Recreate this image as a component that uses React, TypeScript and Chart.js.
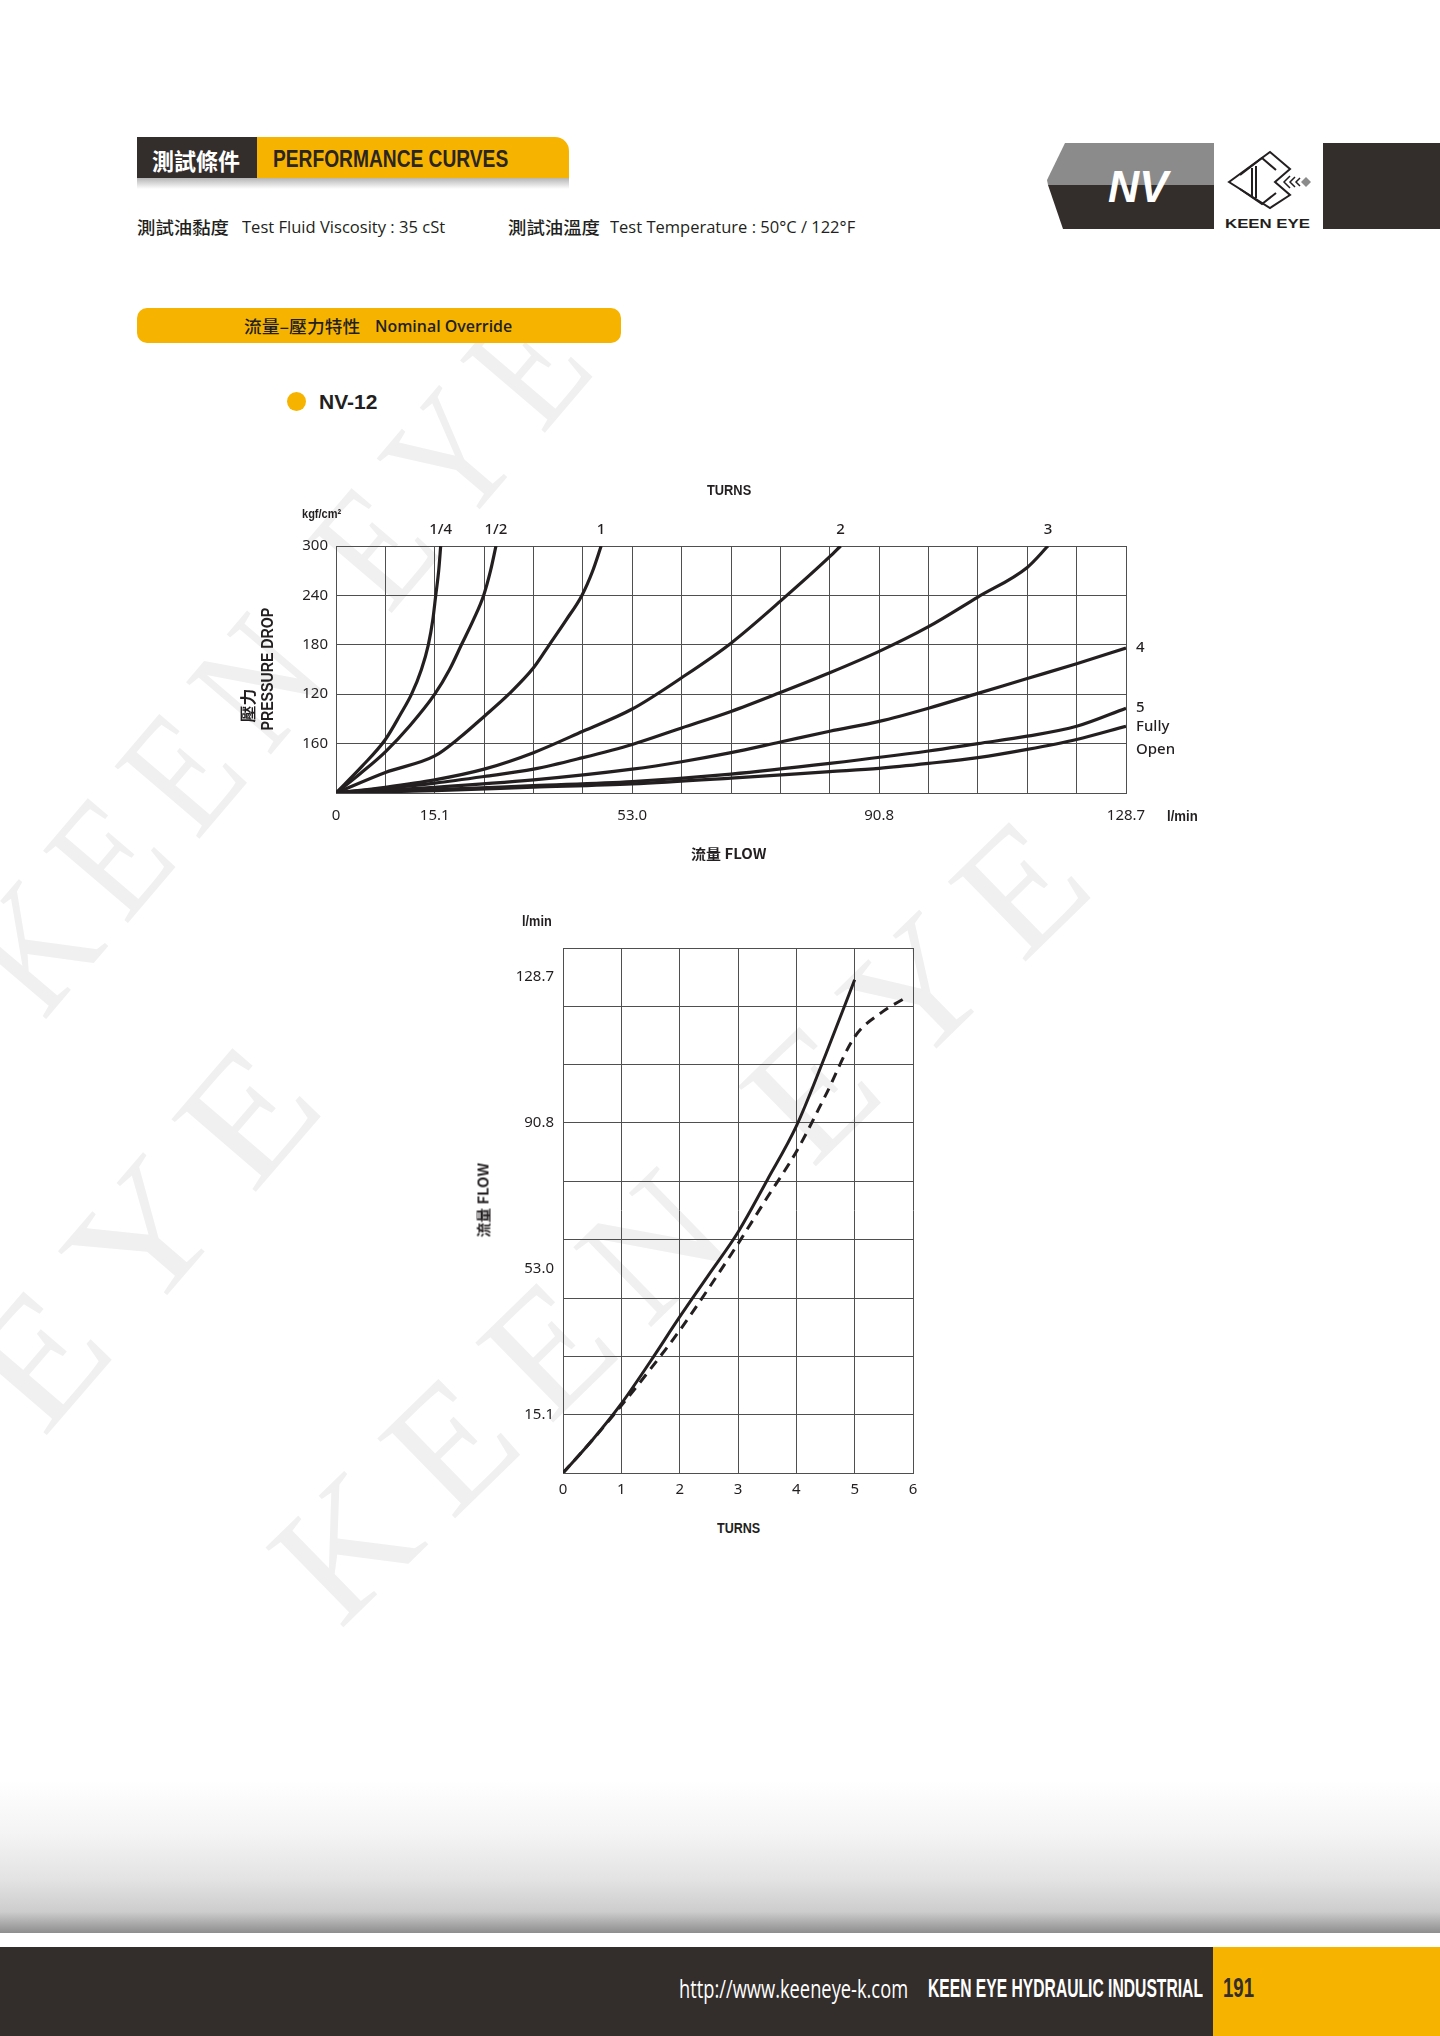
import React, { useEffect, useLayoutEffect, useRef, useState } from 'react';
import { Chart, registerables } from 'chart.js';

Chart.register(...registerables);

const INK = '#231f20';
const DARK = '#332d2b';
const YELLOW = '#f6b400';
const GRID = '#4f4f4f';
const TICK_FAMILY = '"Noto Sans", "DejaVu Sans", sans-serif';
const CJK = '"Noto Sans CJK TC", "Noto Sans CJK SC", sans-serif';
const SANS = '"Liberation Sans", Arial, sans-serif';
const HUMAN = '"Open Sans", "Noto Sans", sans-serif';

// ---------------- Chart 1: pressure drop vs flow (x in chart divisions) ----------------
const flowTickDivs = [0, 2, 6, 11, 16];
const flowTickLabels = ['0', '15.1', '53.0', '90.8', '128.7'];
const pressureTickValues = [60, 120, 180, 240, 300];
const pressureTickLabels = ['160', '120', '180', '240', '300'];
const turnNames = ['1/4', '1/2', '1', '2', '3', '4', '5', 'Fully Open'];

const quarterTurnFlow = [0, 0.52, 1, 1.3, 1.53, 1.73, 1.87, 1.96, 2.02, 2.08, 2.12];
const quarterTurnDrop = [0, 32, 65, 95, 120, 150, 180, 210, 240, 270, 300];
const halfTurnFlow = [0, 0.5, 1, 1.5, 2, 2.3, 2.54, 2.78, 2.99, 3.13, 3.24];
const halfTurnDrop = [0, 24, 50, 82, 120, 150, 180, 210, 240, 270, 300];
const oneTurnFlow = [0, 1, 2, 2.5, 3, 3.5, 4, 4.32, 4.66, 4.98, 5.2, 5.37];
const oneTurnDrop = [0, 25, 45, 67, 93, 120, 152, 180, 210, 240, 270, 300];
const twoTurnFlow = [0, 1, 2, 3, 4, 5, 6, 7, 8, 9, 10, 10.22];
const twoTurnDrop = [0, 7, 16, 29, 49, 75, 102, 140, 182, 233, 287, 300];
const threeTurnFlow = [0, 2, 3, 4, 5, 6, 7, 8, 9, 10, 11, 12, 13, 14, 14.42];
const threeTurnDrop = [0, 12, 20, 29, 43, 59, 79, 99, 122, 146, 172, 202, 238, 274, 300];
const fourTurnFlow = [0, 2, 4, 6, 7, 8, 9, 10, 11, 12, 13, 14, 15, 16];
const fourTurnDrop = [0, 7, 16, 29, 38, 49, 62, 75, 87, 103, 121, 139, 157, 176];
const fiveTurnFlow = [0, 2, 4, 6, 8, 10, 12, 13, 14, 15, 16];
const fiveTurnDrop = [0, 4, 9, 14, 23, 36, 51, 60, 69, 81, 103];
const fullyOpenFlow = [0, 2, 4, 6, 8, 10, 11, 12, 13, 14, 15, 16];
const fullyOpenDrop = [0, 3, 7, 11, 18, 26, 30, 36, 43, 53, 65, 81];

// ---------------- Chart 2: flow vs turns ----------------
const turnTicks = [0, 1, 2, 3, 4, 5, 6];
const flowGridStep = 15.14; // 4 gpm per division
const flowGridCount = 9;
const flowLabelValues = [15.1, 53.0, 90.8, 128.7];
const flowLabelTexts = ['15.1', '53.0', '90.8', '128.7'];
const solidTurns = [0, 0.5, 1, 1.5, 2, 2.5, 3, 3.5, 4, 4.5, 5];
const solidFlow = [0, 8.5, 18, 29, 40.5, 51.5, 62.5, 76, 90, 108.5, 128];
const dashedTurns = [0, 0.5, 1, 1.5, 2, 2.5, 3, 3.5, 4, 4.5, 5, 5.44, 5.9];
const dashedFlow = [0, 8.5, 17.5, 27, 37, 48, 59.5, 71.5, 83.4, 98, 113.2, 119.3, 123.6];

const zip = (xs: number[], ys: number[]) => xs.map((x, i) => ({ x, y: ys[i] }));

const curveLabelPlugin = {
  id: 'curveLabels',
  afterDatasetsDraw(chart: any) {
    const { ctx, scales } = chart;
    const x = scales.x;
    const y = scales.y;
    ctx.save();
    ctx.font = `500 15px ${TICK_FAMILY}`;
    ctx.fillStyle = INK;
    chart.data.datasets.forEach((ds: any) => {
      const last = ds.data[ds.data.length - 1];
      if (last.y >= y.max) {
        ctx.textAlign = 'center';
        ctx.textBaseline = 'middle';
        ctx.fillText(ds.label, x.getPixelForValue(last.x), y.top - 16);
      } else {
        ctx.textAlign = 'left';
        ctx.textBaseline = 'middle';
        const lines = String(ds.label).split(' ');
        lines.forEach((ln: string, i: number) => {
          ctx.fillText(ln, x.right + 10, y.getPixelForValue(last.y) + i * 23);
        });
      }
    });
    ctx.restore();
  },
};

function pressureConfig(): any {
  const flows = [quarterTurnFlow, halfTurnFlow, oneTurnFlow, twoTurnFlow, threeTurnFlow, fourTurnFlow, fiveTurnFlow, fullyOpenFlow];
  const drops = [quarterTurnDrop, halfTurnDrop, oneTurnDrop, twoTurnDrop, threeTurnDrop, fourTurnDrop, fiveTurnDrop, fullyOpenDrop];
  return {
    type: 'line',
    data: {
      datasets: turnNames.map((name, i) => ({
        label: name,
        data: zip(flows[i], drops[i]),
        borderColor: INK,
        borderWidth: 3.2,
        pointRadius: 0,
        fill: false,
        cubicInterpolationMode: 'monotone',
      })),
    },
    options: {
      animation: false,
      responsive: false,
      devicePixelRatio: 1,
      layout: { padding: { left: 56, right: 94, top: 76, bottom: 47 } },
      plugins: { legend: { display: false }, tooltip: { enabled: false } },
      scales: {
        x: {
          type: 'linear',
          min: 0,
          max: 16,
          afterBuildTicks: (s: any) => {
            s.ticks = Array.from({ length: 17 }, (_, i) => ({ value: i }));
          },
          afterFit: (s: any) => {
            s.height = 30;
            s.paddingLeft = 0;
            s.paddingRight = 0;
          },
          grid: { color: GRID, lineWidth: 1, drawTicks: false },
          border: { color: GRID, width: 1 },
          ticks: {
            padding: 14,
            autoSkip: false,
            maxRotation: 0,
            color: INK,
            font: { family: TICK_FAMILY, size: 15 },
            callback: (v: any) => {
              const i = flowTickDivs.indexOf(Number(v));
              return i >= 0 ? flowTickLabels[i] : '';
            },
          },
        },
        y: {
          type: 'linear',
          min: 0,
          max: 300,
          afterBuildTicks: (s: any) => {
            s.ticks = [0, ...pressureTickValues].map((value) => ({ value }));
          },
          afterFit: (s: any) => {
            s.width = 60;
            s.paddingTop = 0;
            s.paddingBottom = 0;
          },
          grid: { color: GRID, lineWidth: 1, drawTicks: false },
          border: { color: GRID, width: 1 },
          ticks: {
            padding: 8,
            autoSkip: false,
            color: INK,
            font: { family: TICK_FAMILY, size: 15 },
            callback: (v: any) => {
              const i = pressureTickValues.indexOf(Number(v));
              return i >= 0 ? pressureTickLabels[i] : '';
            },
          },
        },
      },
    },
    plugins: [curveLabelPlugin],
  };
}

function turnsConfig(): any {
  const gridValues = Array.from({ length: flowGridCount + 1 }, (_, k) => +(k * flowGridStep).toFixed(3));
  const isGrid = (v: number) => gridValues.some((g) => Math.abs(g - v) < 0.01);
  return {
    type: 'line',
    data: {
      datasets: [
        {
          label: 'solid',
          data: zip(solidTurns, solidFlow),
          borderColor: INK,
          borderWidth: 3,
          pointRadius: 0,
          fill: false,
          cubicInterpolationMode: 'monotone',
        },
        {
          label: 'dashed',
          data: zip(dashedTurns, dashedFlow),
          borderColor: INK,
          borderWidth: 3,
          borderDash: [10, 7],
          pointRadius: 0,
          fill: false,
          cubicInterpolationMode: 'monotone',
        },
      ],
    },
    options: {
      animation: false,
      responsive: false,
      devicePixelRatio: 1,
      layout: { padding: { left: 33, right: 47, top: 48, bottom: 17 } },
      plugins: { legend: { display: false }, tooltip: { enabled: false } },
      scales: {
        x: {
          type: 'linear',
          min: 0,
          max: 6,
          afterBuildTicks: (s: any) => {
            s.ticks = turnTicks.map((value) => ({ value }));
          },
          afterFit: (s: any) => {
            s.height = 30;
            s.paddingLeft = 0;
            s.paddingRight = 0;
          },
          grid: { color: GRID, lineWidth: 1, drawTicks: false },
          border: { color: GRID, width: 1 },
          ticks: {
            padding: 8,
            autoSkip: false,
            maxRotation: 0,
            color: INK,
            font: { family: TICK_FAMILY, size: 15 },
            callback: (v: any) => String(v),
          },
        },
        y: {
          type: 'linear',
          min: 0,
          max: gridValues[gridValues.length - 1],
          afterBuildTicks: (s: any) => {
            const extra = flowLabelValues.filter((v) => !gridValues.some((g) => Math.abs(g - v) < 0.5));
            s.ticks = [...gridValues, ...extra].sort((a, b) => a - b).map((value) => ({ value }));
          },
          afterFit: (s: any) => {
            s.width = 70;
            s.paddingTop = 0;
            s.paddingBottom = 0;
          },
          grid: {
            color: (c: any) => (c.tick && isGrid(c.tick.value) ? GRID : 'rgba(0,0,0,0)'),
            lineWidth: 1,
            drawTicks: false,
          },
          border: { color: GRID, width: 1 },
          ticks: {
            padding: 9,
            autoSkip: false,
            color: INK,
            font: { family: TICK_FAMILY, size: 15 },
            callback: (v: any) => {
              const i = flowLabelValues.findIndex((l) => Math.abs(l - Number(v)) < 0.5);
              return i >= 0 ? flowLabelTexts[i] : '';
            },
          },
        },
      },
    },
  };
}

function ChartBox(props: { left: number; top: number; width: number; height: number; make: () => any }) {
  const { left, top, width, height, make } = props;
  const ref = useRef<HTMLCanvasElement>(null);
  useEffect(() => {
    const chart = new Chart(ref.current as HTMLCanvasElement, make());
    return () => chart.destroy();
  }, []);
  return (
    <canvas
      ref={ref}
      width={width}
      height={height}
      style={{ position: 'absolute', left, top, width, height, display: 'block' }}
    />
  );
}

function FitText(props: {
  x: number; y: number; w: number; size: number; text: string;
  weight?: number | string; color?: string; family?: string; italic?: boolean; rotate?: number; spacing?: number;
}) {
  const { x, y, w, size, text, weight = 400, color = INK, family = SANS, italic = false, rotate = 0, spacing = 0 } = props;
  const ref = useRef<HTMLSpanElement>(null);
  const [scale, setScale] = useState(1);
  useLayoutEffect(() => {
    const measure = () => {
      const el = ref.current;
      if (el && el.offsetWidth > 0) setScale(w / el.offsetWidth);
    };
    measure();
    const fonts = (document as any).fonts;
    if (fonts && fonts.ready) fonts.ready.then(measure);
  }, [w, text, size, family]);
  const lh = Math.round(size * 1.2);
  return (
    <span
      ref={ref}
      style={{
        position: 'absolute',
        left: x,
        top: y - lh / 2,
        height: lh,
        lineHeight: `${lh}px`,
        fontSize: size,
        fontFamily: family,
        fontWeight: weight as any,
        fontStyle: italic ? 'italic' : 'normal',
        letterSpacing: spacing,
        color,
        whiteSpace: 'nowrap',
        display: 'block',
        transformOrigin: 'left center',
        transform: `rotate(${rotate}deg) scaleX(${scale})`,
      }}
    >
      {text}
    </span>
  );
}

function Box(props: { l: number; t: number; w: number; h: number; style?: any }) {
  return <div style={{ position: 'absolute', left: props.l, top: props.t, width: props.w, height: props.h, ...(props.style || {}) }} />;
}

export default function App() {
  useEffect(() => {
    document.body.style.margin = '0';
  }, []);
  const WM = '"Liberation Serif", "DejaVu Serif", serif';
  const WMC = '#f0f0f0';
  return (
    <div style={{ position: 'absolute', left: 0, top: 0, width: 1440, height: 2036, background: '#fff', overflow: 'hidden' }}>
      {/* watermark */}
      <FitText x={0} y={985} w={880} size={170} text="KEEN EYE" family={WM} color={WMC} rotate={-49.6} spacing={30} />
      <FitText x={0} y={1402} w={470} size={170} text="EYE" family={WM} color={WMC} rotate={-49.3} spacing={30} />
      <FitText x={300} y={1590} w={1090} size={170} text="KEEN EYE" family={WM} color={WMC} rotate={-44.3} spacing={30} />

      {/* header bar */}
      <Box l={137} t={178} w={432} h={11} style={{ background: 'linear-gradient(to bottom, #b5b5b5, rgba(255,255,255,0))' }} />
      <Box l={137} t={137} w={120} h={41} style={{ background: DARK }} />
      <Box l={257} t={137} w={312} h={41} style={{ background: YELLOW, borderTopRightRadius: 14 }} />
      <FitText x={152} y={160} w={88} size={23} weight={700} color="#ffffff" family={CJK} text="測試條件" />
      <FitText x={273} y={158.7} w={235} size={24} weight={700} color="#2b2523" text="PERFORMANCE CURVES" />

      {/* test conditions */}
      <FitText x={137} y={227} w={92} size={17} weight={500} family={CJK} text="測試油黏度" />
      <FitText x={241.5} y={227} w={203.5} size={17} family={HUMAN} text="Test Fluid Viscosity : 35 cSt" />
      <FitText x={508} y={227} w={92} size={17} weight={500} family={CJK} text="測試油溫度" />
      <FitText x={610} y={227} w={244.7} size={17} family={HUMAN} text="Test Temperature : 50°C / 122°F" />

      {/* top right banner + logo */}
      <svg width={1440} height={260} style={{ position: 'absolute', left: 0, top: 0 }}>
        <polygon points="1065,143 1214,143 1214,185 1048,185 1047,180" fill="#8b8b8b" />
        <polygon points="1048,185 1214,185 1214,229 1063,229" fill={DARK} />
        <text x={1108} y={202} fill="#ffffff" fontFamily={SANS} fontWeight={700} fontStyle="italic" fontSize={44} textLength={60} lengthAdjust="spacingAndGlyphs">NV</text>
        <rect x={1323} y={143} width={117} height={86} fill={DARK} />
        <g fill="none" stroke={INK} strokeWidth={2}>
          <polygon points="1229,182 1270,152 1290,169 1275,182 1290,195 1270,208" fill="#ffffff" />
          <polyline points="1240,175 1262,158 1276,170" />
          <polyline points="1240,189 1262,204 1276,193" />
          <line x1={1252} y1={168} x2={1252} y2={196} />
          <line x1={1256} y1={166} x2={1256} y2={198} />
          <polyline points="1290,176 1284,182 1290,188" strokeWidth={1.5} />
          <polyline points="1295,177 1290,182 1295,187" strokeWidth={1.5} />
          <polyline points="1300,178 1296,182 1300,186" strokeWidth={1.5} />
        </g>
        <polygon points="1306,177 1311,182 1306,187 1301,182" fill="#8b8b8b" />
        <text x={1225} y={228} fill={INK} fontFamily={SANS} fontWeight={700} fontSize={13} textLength={85} lengthAdjust="spacingAndGlyphs">KEEN EYE</text>
      </svg>

      {/* section bar */}
      <Box l={137} t={308} w={484} h={35} style={{ background: YELLOW, borderRadius: 10 }} />
      <FitText x={244.4} y={326} w={116} size={17} weight={500} family={CJK} text="流量–壓力特性" />
      <FitText x={375.4} y={326} w={137.6} size={17} weight={600} family={HUMAN} text="Nominal Override" />

      {/* NV-12 */}
      <Box l={286.5} t={392} w={19} h={19} style={{ background: YELLOW, borderRadius: '50%' }} />
      <FitText x={319} y={401.7} w={58} size={21} weight={700} text="NV-12" />

      {/* chart 1 */}
      <ChartBox left={220} top={470} width={1000} height={400} make={pressureConfig} />
      <FitText x={707} y={490.7} w={44} size={14} weight={700} text="TURNS" />
      <FitText x={302} y={514} w={39} size={13} weight={700} text="kgf/cm²" />
      <FitText x={266.7} y={730} w={123} size={16} weight={700} rotate={-90} text="PRESSURE DROP" />
      <FitText x={246.7} y={722} w={34} size={16} weight={700} rotate={-90} family={CJK} text="壓力" />
      <FitText x={1166.7} y={816.7} w={31} size={14} weight={700} text="l/min" />
      <FitText x={691} y={853} w={75} size={14} weight={700} family={CJK} text="流量 FLOW" />

      {/* chart 2 */}
      <ChartBox left={460} top={900} width={500} height={620} make={turnsConfig} />
      <FitText x={521.7} y={921.7} w={30} size={14} weight={700} text="l/min" />
      <FitText x={483.3} y={1237} w={74} size={14} weight={700} rotate={-90} family={CJK} text="流量 FLOW" />
      <FitText x={716.7} y={1528.3} w={43} size={14} weight={700} text="TURNS" />

      {/* footer */}
      <Box l={0} t={1780} w={1440} h={153} style={{ background: 'linear-gradient(to bottom, #ffffff 0%, #f4f4f4 35%, #e3e3e3 65%, #cdcdcd 86%, #8e8e8e 100%)' }} />
      <Box l={0} t={1947} w={1440} h={89} style={{ background: DARK }} />
      <Box l={1213} t={1947} w={227} h={89} style={{ background: YELLOW }} />
      <FitText x={679} y={1988} w={229} size={25} color="#ffffff" family={HUMAN} text="http://www.keeneye-k.com" />
      <FitText x={928} y={1988} w={275} size={25} weight={700} color="#ffffff" text="KEEN EYE HYDRAULIC INDUSTRIAL" />
      <FitText x={1223} y={1988} w={31} size={27} weight={700} color={DARK} text="191" />
    </div>
  );
}
